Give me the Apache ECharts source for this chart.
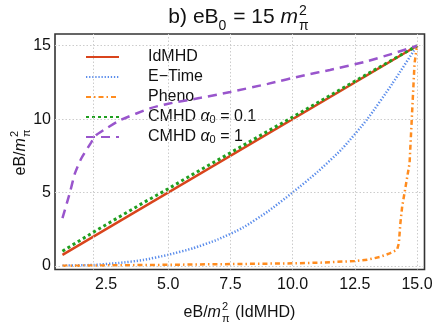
<!DOCTYPE html>
<html><head><meta charset="utf-8">
<script src="https://cdn.jsdelivr.net/npm/echarts@6/dist/echarts.min.js"></script>
<style>html,body{margin:0;padding:0;background:#fff}#c{width:436px;height:327px}</style>
</head><body><div id="c"></div>
<script>
// ---- data ----
const xTicks = [2.5, 5, 7.5, 10, 12.5, 15];
const yTicks = [0, 5, 10, 15];
const xGrid = [2, 5, 7.5, 10, 12.5, 15];
const yGrid = [0, 5, 10, 15];

const idmhdX = [0.75, 15];
const idmhdY = [0.75, 15];

const etimeX = [0.75, 2, 3, 4, 5, 6, 7, 8, 9, 10, 11, 12, 13, 14, 15];
const etimeY = [0.01, 0.06, 0.19, 0.4, 0.75, 1.2, 1.8, 2.6, 3.7, 5.0, 6.4, 8.0, 10.0, 12.4, 15];

const phenoX = [0.75, 2.5, 5, 7.5, 10, 11.2, 12.5, 13, 13.5, 13.9, 14.2, 14.27, 14.33, 14.4, 14.55, 14.7, 14.8, 14.9, 15];
const phenoY = [0.0, 0.03, 0.07, 0.12, 0.17, 0.22, 0.33, 0.42, 0.6, 0.85, 1.1, 1.55, 2.9, 4.0, 5.5, 7.0, 10.4, 13.8, 15];

const cmhd01X = [0.75, 2, 3, 4, 5, 6, 7.5, 9, 10.5, 12, 13.5, 15];
const cmhd01Y = [1.0, 2.3, 3.3, 4.3, 5.25, 6.25, 7.7, 9.17, 10.63, 12.1, 13.55, 15];

const cmhd1X = [0.75, 1.05, 1.25, 1.5, 1.9, 2.1, 2.5, 3.1, 4.3, 5, 6.3, 7.5, 9, 10.5, 11.5, 12.9, 14, 15];
const cmhd1Y = [3.25, 5.0, 6.3, 7.3, 8.4, 8.9, 9.35, 9.95, 10.75, 11.05, 11.45, 11.85, 12.4, 13.0, 13.35, 13.9, 14.45, 15];

const names = ['IdMHD', 'E\u2212Time', 'Pheno', 'CMHD \u03b10 = 0.1', 'CMHD \u03b10 = 1'];
const legendRich = {
  'IdMHD': 'IdMHD',
  'E\u2212Time': 'E\u2212Time',
  'Pheno': 'Pheno',
  'CMHD \u03b10 = 0.1': 'CMHD {a|\u03b1}{s|0} = 0.1',
  'CMHD \u03b10 = 1': 'CMHD {a|\u03b1}{s|0} = 1'
};

// ---- helpers ----
const FF = '"Liberation Sans", Arial, Helvetica, sans-serif';
const mc = document.createElement('canvas').getContext('2d');
function tw(t, font) { mc.font = font; return mc.measureText(t).width; }
function pair(xs, ys) { return xs.map((x, i) => [x, ys[i]]); }

// builds a text group with baseline at y=0, centred horizontally at x=0
function mathText(parts, size, subSize) {
  const items = []; let x = 0;
  parts.forEach(p => {
    if (p.sup !== undefined || p.sub !== undefined) {
      const f = subSize + 'px ' + FF;
      let adv = 0;
      if (p.sup !== undefined) {
        items.push({ t: p.sup, x, font: f, fs: subSize, base: -0.45 * size });
        adv = Math.max(adv, tw(p.sup, f));
      }
      if (p.sub !== undefined) {
        items.push({ t: p.sub, x, font: f, fs: subSize, base: 0.28 * size });
        adv = Math.max(adv, tw(p.sub, f));
      }
      x += adv + 1;
    } else {
      const f = (p.i ? 'italic ' : '') + size + 'px ' + FF;
      items.push({ t: p.t, x, font: f, fs: size, base: 0 });
      x += tw(p.t, f) + (p.i ? 1 : 0);
    }
  });
  const W = x;
  return items.map(it => ({
    type: 'text', x: it.x - W / 2, y: it.base - 0.35 * it.fs,
    style: { text: it.t, font: it.font, fill: '#111', verticalAlign: 'middle', align: 'left' }
  }));
}

const titleParts = [{ t: 'b) eB' }, { sub: '0' }, { t: ' = 15 ' }, { t: 'm', i: true }, { sup: '2', sub: '\u03c0' }];
const xNameParts = [{ t: 'eB/' }, { t: 'm', i: true }, { sup: '2', sub: '\u03c0' }, { t: ' (IdMHD)' }];
const yNameParts = [{ t: 'eB/' }, { t: 'm', i: true }, { sup: '2', sub: '\u03c0' }];

const chart = echarts.init(document.getElementById('c'), null, { renderer: 'canvas' });

const gridLineStyle = { color: '#cccccc', type: [1.5, 2], width: 1 };

const option = {
  animation: false,
  backgroundColor: '#fff',
  textStyle: { fontFamily: FF },
  grid: { left: 55, right: 11.5, top: 34, bottom: 57.5, show: true, borderColor: '#333', borderWidth: 1.6, backgroundColor: 'transparent' },
  xAxis: {
    type: 'value', min: 0.45, max: 15.3,
    axisLine: { show: false }, axisTick: { show: false }, splitLine: { show: false },
    axisLabel: { customValues: xTicks, formatter: v => v.toFixed(1), fontSize: 16, color: '#111', margin: 7, fontFamily: FF }
  },
  yAxis: {
    type: 'value', min: -0.25, max: 15.8,
    axisLine: { show: false }, axisTick: { show: false }, splitLine: { show: false },
    axisLabel: { customValues: yTicks, formatter: v => String(v), fontSize: 16, color: '#111', margin: 4, fontFamily: FF }
  },
  legend: {
    data: names, orient: 'vertical', left: 85, top: 49, padding: 0,
    itemWidth: 33, itemHeight: 16, itemGap: 4,
    itemStyle: { opacity: 0 },
    formatter: n => legendRich[n],
    textStyle: {
      fontSize: 16, color: '#111', fontFamily: FF, lineHeight: 16, padding: [0, 0, 0, 24],
      rich: {
        a: { fontStyle: 'italic', fontSize: 16, lineHeight: 16, fontFamily: FF, color: '#111' },
        s: { fontSize: 11, lineHeight: 8, verticalAlign: 'bottom', fontFamily: FF, color: '#111' }
      }
    }
  },
  graphic: [
    { type: 'group', x: 239, y: 25, children: mathText(titleParts, 21, 14) },
    { type: 'group', x: 239.5, y: 318, children: mathText(xNameParts, 16, 11) },
    { type: 'group', x: 26.5, y: 152, rotation: Math.PI / 2, children: mathText(yNameParts, 16, 11) }
  ],
  series: [
    {
      type: 'line', name: '_grid', data: [], z: 1, silent: true,
      markLine: {
        silent: true, symbol: 'none', label: { show: false }, lineStyle: gridLineStyle, animation: false,
        data: xGrid.map(v => ({ xAxis: v })).concat(yGrid.map(v => ({ yAxis: v })))
      }
    },
    { type: 'line', name: names[0], data: pair(idmhdX, idmhdY), showSymbol: false, z: 2,
      lineStyle: { color: '#D9441C', width: 2.5 }, itemStyle: { color: '#D9441C' } },
    { type: 'line', name: names[1], data: pair(etimeX, etimeY), showSymbol: false, z: 3, smooth: 0.2,
      lineStyle: { color: '#5B8DEB', width: 2.5, type: [1.3, 1.8] }, itemStyle: { color: '#5B8DEB' } },
    { type: 'line', name: names[2], data: pair(phenoX, phenoY), showSymbol: false, z: 4,
      lineStyle: { color: '#FF8C1F', width: 2.5, type: [5, 3, 1.5, 3] }, itemStyle: { color: '#FF8C1F' } },
    { type: 'line', name: names[3], data: pair(cmhd01X, cmhd01Y), showSymbol: false, z: 5,
      lineStyle: { color: '#1F9F1F', width: 3, type: [3, 3] }, itemStyle: { color: '#1F9F1F' } },
    { type: 'line', name: names[4], data: pair(cmhd1X, cmhd1Y), showSymbol: false, z: 6, smooth: 0.2,
      lineStyle: { color: '#9955CC', width: 2.5, type: [9, 6] }, itemStyle: { color: '#9955CC' } }
  ]
};
chart.setOption(option);
</script></body></html>
